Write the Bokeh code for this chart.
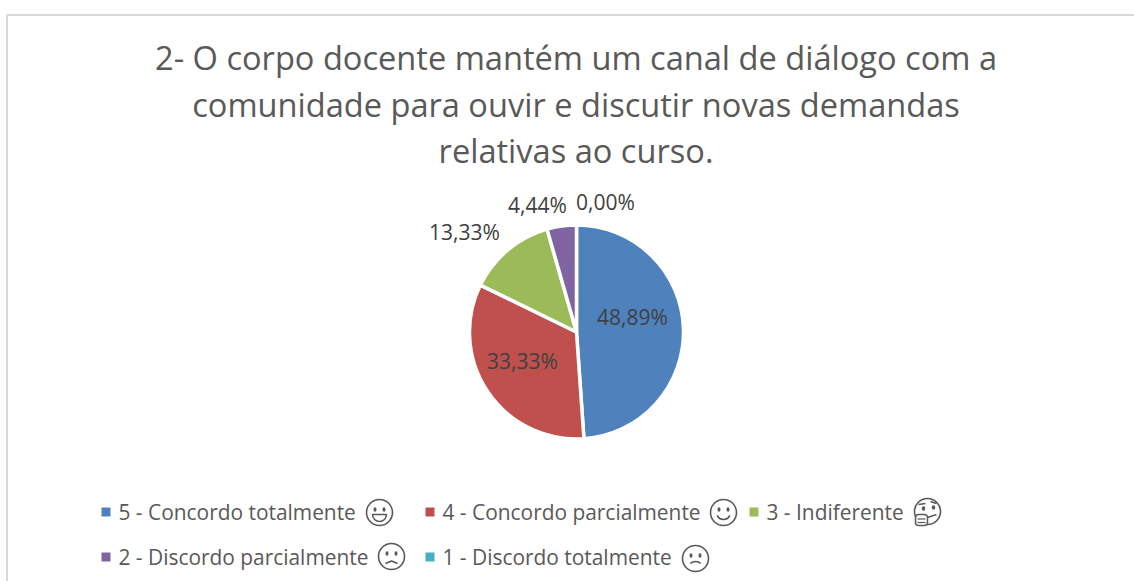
import math
from bokeh.plotting import figure
from bokeh.models import Range1d
from bokeh.core.properties import value
from bokeh.embed import file_html
from bokeh.resources import INLINE

W, H = 1134, 581
categories = ["5 - Concordo totalmente", "4 - Concordo parcialmente", "3 - Indiferente",
              "2 - Discordo parcialmente", "1 - Discordo totalmente"]
values = [48.89, 33.33, 13.33, 4.44, 0.00]
labels = ["48,89%", "33,33%", "13,33%", "4,44%", "0,00%"]
colors = ["#4F81BD", "#C0504D", "#9BBB59", "#8064A2", "#4BACC6"]
title_lines = ["2- O corpo docente mantém um canal de diálogo com a",
               "comunidade para ouvir e discutir novas demandas",
               "relativas ao curso."]
FONT = "Open Sans"
INK = "#595959"

p = figure(width=W, height=H, output_backend="svg", toolbar_location=None,
           x_range=Range1d(0, W), y_range=Range1d(0, H), min_border=0,
           outline_line_color=None, background_fill_color="white")
p.margin = (0, 0, 0, 0)
p.axis.visible = False
p.grid.visible = False
Y = lambda y: H - y

# chart frame (left and top edges only are inside the picture)
p.line([6.5, 6.5, W], [Y(581), Y(14.5), Y(14.5)], line_color="#D9D9D9", line_width=2)

for line, y in zip(title_lines, [57, 104, 150]):
    p.text([575.5], [Y(y)], text=[line], text_font=value(FONT), text_font_size="32.6px",
           text_color=INK, text_align="center", text_baseline="middle")

# pie
cx, cy, r = 576, 331.5, 107
total = sum(values)
a = math.pi / 2
for v, c in zip(values, colors):
    b = a - v / total * 2 * math.pi
    if v > 0:
        p.wedge([cx], [Y(cy)], radius=r, start_angle=a, end_angle=b, direction="clock",
                fill_color=c, line_color="white", line_width=3.5)
    a = b

lab_pos = [(632, 316), (522, 360), (464, 231), (537, 204), (605, 201)]
for t, (x, y) in zip(labels, lab_pos):
    p.text([x], [Y(y)], text=[t], text_font=value(FONT), text_font_size="21px",
           text_color="#404040", text_align="center", text_baseline="middle")

# legend
leg = [(101, 512), (425, 512), (749, 512), (101, 557), (425, 557)]
for name, c, (x, y) in zip(categories, colors, leg):
    p.rect([x + 4.5], [Y(y - 0.5)], width=9, height=9, fill_color=c, line_color=None)
    p.text([x + 17], [Y(y - 1)], text=[name], text_font=value(FONT), text_font_size="20.9px",
           text_color=INK, text_align="left", text_baseline="middle")

def face(x, y):
    p.circle([x], [Y(y)], radius=13, fill_color=None, line_color=INK, line_width=1.6)

def eyes(x, y, dy=-3, ry=2.2):
    p.ellipse([x - 4.5, x + 4.5], [Y(y + dy)] * 2, width=3, height=ry * 2, fill_color=INK, line_color=None)

def mouth(x, y, rad, a0, a1):
    p.arc([x], [Y(y)], radius=rad, start_angle=math.radians(a0), end_angle=math.radians(a1),
          line_color=INK, line_width=1.6)

# grinning
face(379, 512); eyes(379, 512)
p.wedge([379], [Y(514)], radius=7, start_angle=math.radians(180), end_angle=0, direction="anticlock",
        fill_color=None, line_color=INK, line_width=1.5)
# smile
face(723, 512); eyes(723, 512)
mouth(723, 512, 7, 205, 335)
# thinking
face(927, 511)
p.line([918, 925], [Y(504), Y(503)], line_color=INK, line_width=1.4)
p.line([930, 936], [Y(501), Y(503)], line_color=INK, line_width=1.4)
p.ellipse([923, 933], [Y(508), Y(507)], width=3.5, height=4.5, fill_color=INK, line_color=None)
p.line([927, 936], [Y(517), Y(514)], line_color=INK, line_width=1.5)
p.quad(left=[915], right=[927], bottom=[Y(525)], top=[Y(514)], fill_color="white", line_color=INK,
       line_width=1.5, border_radius=3)
p.line([917, 925], [Y(518.5), Y(518.5)], line_color=INK, line_width=1.2)
p.line([917, 925], [Y(522), Y(522)], line_color=INK, line_width=1.2)
# slight frown
face(391, 556); eyes(391, 556)
p.line([385, 391, 397], [Y(563), Y(560.5), Y(563)], line_color=INK, line_width=1.6)
# frown
face(695, 558); eyes(695, 558)
mouth(695, 569, 8, 50, 130)

open("out.html", "w").write(file_html(p, INLINE))
